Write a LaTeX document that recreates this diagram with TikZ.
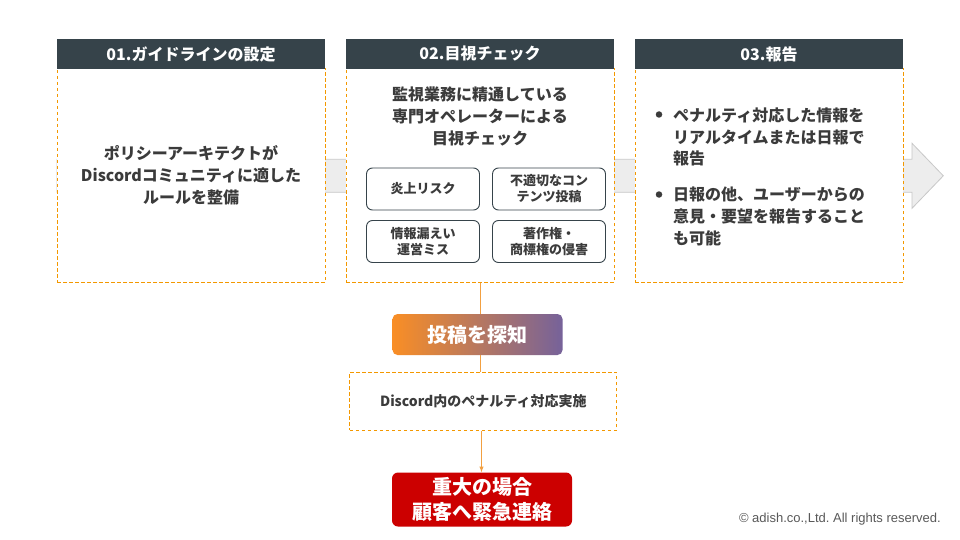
\documentclass[tikz,border=0pt]{standalone}
\usepackage{fontspec}
\setmainfont{Noto Sans CJK JP}
\newfontfamily\copyfont{Liberation Sans}
\usepackage{tikz}
\usetikzlibrary{arrows.meta}

\definecolor{headgray}{HTML}{36434A}
\definecolor{dashorange}{HTML}{F39800}
\definecolor{textgray}{HTML}{3B3B3B}
\definecolor{bandgray}{HTML}{EDEDED}
\definecolor{bandline}{HTML}{C8C8C8}
\definecolor{gradorange}{HTML}{F98E25}
\definecolor{gradpurple}{HTML}{76629A}
\definecolor{alertred}{HTML}{CC0000}
\definecolor{lineorange}{HTML}{F2A041}
\definecolor{copygray}{HTML}{595959}

\tikzset{
  header/.style={fill=headgray, text=white, minimum width=268pt, minimum height=30.5pt, inner sep=0pt,
    font=\fontsize{16}{18}\selectfont\bfseries},
  stepbody/.style={draw=dashorange, dash pattern=on 3.5pt off 2.5pt, line width=1pt, fill=white,
    minimum width=268pt, minimum height=213pt, inner sep=0pt, align=center, text=textgray,
    font=\fontsize{16}{22}\selectfont\bfseries},
  bodytext/.style={inner sep=0pt, text=textgray, font=\fontsize{16}{21.7}\selectfont\bfseries},
  riskbox/.style={draw=headgray, line width=0.9pt, rounded corners=6pt, minimum width=113pt,
    minimum height=42pt, inner sep=0pt, align=center, text=textgray,
    font=\fontsize{13}{16}\selectfont\bfseries},
  bulletdot/.style={circle, fill=textgray, minimum size=6.5pt, inner sep=0pt},
  detectbox/.style={rounded corners=5pt, left color=gradorange, right color=gradpurple,
    minimum width=170pt, minimum height=41pt, inner sep=0pt, text=white,
    font=\fontsize{20}{24}\selectfont\bfseries},
  penaltybox/.style={draw=dashorange, dash pattern=on 3.5pt off 2.5pt, line width=1pt,
    minimum width=267pt, minimum height=58pt, inner sep=0pt, text=textgray,
    font=\fontsize{14}{17}\selectfont\bfseries},
  alertbox/.style={fill=alertred, rounded corners=6pt, minimum width=180pt, minimum height=54pt,
    inner sep=0pt, align=center, text=white, font=\fontsize{20}{25}\selectfont\bfseries},
  link/.style={draw=lineorange, line width=1pt}
}

\begin{document}
\begin{tikzpicture}[x=1pt, y=-1pt]

    \useasboundingbox (0,0) rectangle (960,540);
    \fill[white] (0,0) rectangle (960,540);

    % flow band behind the steps
    \draw[fill=bandgray, draw=bandline, line width=0.8pt]
      (57,159.3) -- (912,159.3) -- (912,143.3) -- (943.3,175.8)
      -- (912,208.3) -- (912,192.3) -- (57,192.3) -- cycle;

    % nodes (steps)
    \node[stepbody] (body1) at (191,175.5) {ポリシーアーキテクトが\\Discordコミュニティに適した\\ルールを整備};
    \node[header] (head1) at (191,54) {01.ガイドラインの設定};
    \node[stepbody] (body2) at (480,175.5) {};
    \node[header] (head2) at (480,54) {02.目視チェック};
    \node[stepbody] (body3) at (769,175.5) {};
    \node[header] (head3) at (769,54) {03.報告};

    % step 02 content
    \node[bodytext, align=center] (watch) at (480,116.5) {監視業務に精通している\\専門オペレーターによる\\目視チェック};
    \node[riskbox] (risk1) at (423,189) {炎上リスク};
    \node[riskbox] (risk2) at (549,189) {不適切なコン\\テンツ投稿};
    \node[riskbox] (risk3) at (423,241.5) {情報漏えい\\運営ミス};
    \node[riskbox] (risk4) at (549,241.5) {著作権・\\商標権の侵害};

    % step 03 content
    \node[bulletdot] (dot1) at (659,114.5) {};
    \node[bodytext, align=left, anchor=west] (report1) at (673,137) {ペナルティ対応した情報を\\リアルタイムまたは日報で\\報告};
    \node[bulletdot] (dot2) at (659,194.5) {};
    \node[bodytext, align=left, anchor=west] (report2) at (673,216.5) {日報の他、ユーザーからの\\意見・要望を報告すること\\も可能};

    % nodes (below)
    \node[detectbox] (detect) at (477.5,334.5) {投稿を探知};
    \node[penaltybox] (penalty) at (483.3,401.3) {Discord内のペナルティ対応実施};
    \node[alertbox] (alert) at (482,499.5) {重大の場合\\顧客へ緊急連絡};

    % edges
    \draw[link] (body2.south) -- (body2.south |- detect.north); % 02 -> detect
    \draw[link] (detect.south -| body2.south) -- (body2.south |- penalty.north); % detect -> penalty
    \draw[link, -{latex}] (penalty.south -| 481.5,0) -- (alert.north -| 481.5,0); % penalty -> alert

    \node[anchor=east, inner sep=0pt, text=copygray, font=\copyfont\fontsize{13}{15}\selectfont] (copy) at (941,519) {\frenchspacing © adish.co.,Ltd. All rights reserved.};

\end{tikzpicture}
\end{document}
